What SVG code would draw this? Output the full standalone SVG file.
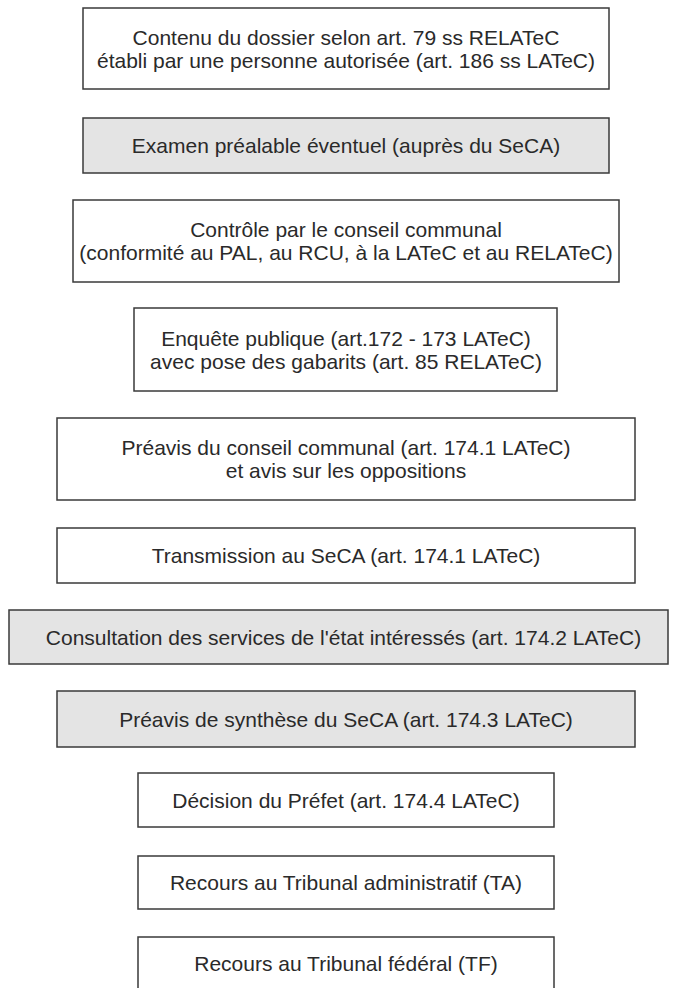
<svg xmlns="http://www.w3.org/2000/svg" width="676" height="988" viewBox="0 0 676 988">
<style>
  .box { fill: #ffffff; stroke: #3a3a3a; stroke-width: 1.5; }
  .grey { fill: #e4e4e4; }
  .t { font-family: "Liberation Sans", Arial, Helvetica, sans-serif; font-size: 21px; fill: #2a2a2a; text-anchor: middle; }
</style>
<rect x="0" y="0" width="676" height="988" fill="#ffffff"/>
<g id="connectors"/>
<g id="n1">
  <rect class="box" x="83" y="8" width="526" height="81"/>
  <text class="t" x="346" y="45">Contenu du dossier selon art. 79 ss RELATeC</text>
  <text class="t" x="346" y="68">établi par une personne autorisée (art. 186 ss LATeC)</text>
</g>
<g id="n2">
  <rect class="box grey" x="83" y="118" width="526" height="55"/>
  <text class="t" x="346" y="153">Examen préalable éventuel (auprès du SeCA)</text>
</g>
<g id="n3">
  <rect class="box" x="73" y="200" width="546" height="82"/>
  <text class="t" x="346" y="237">Contrôle par le conseil communal</text>
  <text class="t" x="346" y="260">(conformité au PAL, au RCU, à la LATeC et au RELATeC)</text>
</g>
<g id="n4">
  <rect class="box" x="134" y="308" width="423" height="83"/>
  <text class="t" x="346" y="346">Enquête publique (art.172 - 173 LATeC)</text>
  <text class="t" x="346" y="369">avec pose des gabarits (art. 85 RELATeC)</text>
</g>
<g id="n5">
  <rect class="box" x="57" y="418" width="578" height="82"/>
  <text class="t" x="346" y="455">Préavis du conseil communal (art. 174.1 LATeC)</text>
  <text class="t" x="346" y="478">et avis sur les oppositions</text>
</g>
<g id="n6">
  <rect class="box" x="57" y="528" width="578" height="55"/>
  <text class="t" x="346" y="563">Transmission au SeCA (art. 174.1 LATeC)</text>
</g>
<g id="n7">
  <rect class="box grey" x="9" y="610" width="659" height="54"/>
  <text class="t" x="343.5" y="644.5">Consultation des services de l'état intéressés (art. 174.2 LATeC)</text>
</g>
<g id="n8">
  <rect class="box grey" x="57" y="691" width="578" height="56"/>
  <text class="t" x="346" y="726.5">Préavis de synthèse du SeCA (art. 174.3 LATeC)</text>
</g>
<g id="n9">
  <rect class="box" x="138" y="773" width="416" height="54"/>
  <text class="t" x="346" y="807.5">Décision du Préfet (art. 174.4 LATeC)</text>
</g>
<g id="n10">
  <rect class="box" x="138" y="856" width="416" height="53"/>
  <text class="t" x="346" y="890">Recours au Tribunal administratif (TA)</text>
</g>
<g id="n11">
  <rect class="box" x="138" y="937" width="416" height="60"/>
  <text class="t" x="346" y="971">Recours au Tribunal fédéral (TF)</text>
</g>
</svg>
